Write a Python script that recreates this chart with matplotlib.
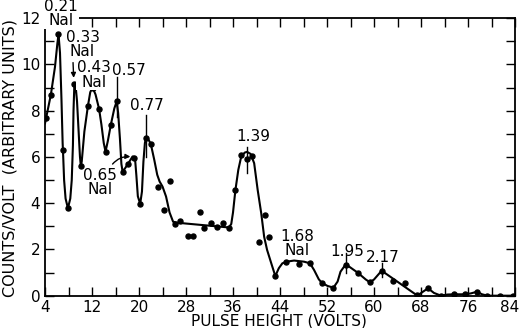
import matplotlib
matplotlib.use("Agg")
import matplotlib.pyplot as plt
from matplotlib.ticker import FixedLocator, MultipleLocator
from matplotlib.transforms import ScaledTranslation

# Measured pulse-height spectrum (dots)
pulse_v = [4.2, 5.0, 6.27, 7.07, 7.9, 9.0, 10.1, 11.3, 12.1, 13.2, 14.3, 15.2,
           16.2, 17.2, 18.2, 19.1, 20.2, 21.2, 22.0, 23.3, 24.2, 25.2, 26.2,
           27.0, 28.3, 29.2, 30.3, 31.1, 32.3, 33.2, 34.3, 35.3, 36.3, 37.4,
           38.3, 39.2, 40.35, 41.4, 42.2, 43.2, 45.1, 47.2, 49.1, 51.1, 53.1,
           55.2, 57.2, 59.3, 61.3, 63.3, 65.3, 67.4, 69.2, 71.4, 73.6, 75.5,
           77.5, 79.3, 81.4, 83.6]
counts = [7.7, 8.7, 11.3, 6.3, 3.8, 9.17, 5.6, 8.2, 9.0, 8.08, 6.23, 7.39,
          8.4, 5.37, 5.7, 5.95, 3.97, 6.8, 6.57, 4.69, 3.71, 4.94, 3.1,
          3.25, 2.6, 2.6, 3.64, 2.92, 3.13, 2.96, 3.13, 2.92, 4.55, 6.09,
          5.9, 6.02, 2.34, 3.49, 2.53, 0.85, 1.47, 1.36, 1.4, 0.56, 0.35,
          1.33, 1.0, 0.58, 1.08, 0.64, 0.56, 0.03, 0.32, 0.0, 0.06, 0.06,
          0.17, 0.0, 0.0, 0.0]

# Hand-drawn fit through the spectrum
fit_v = [4.0, 4.2, 5.0, 5.7, 6.1, 6.3, 6.55, 6.8, 7.0, 7.1, 7.25, 7.5, 7.9,
         8.3, 8.55, 8.75, 8.85, 9.0, 9.2, 9.45, 9.7, 9.95, 10.1, 10.25, 10.7,
         11.3, 11.7, 12.1, 12.6, 13.2, 13.6, 14.0, 14.3, 14.7, 15.2, 15.8,
         16.2, 16.45, 16.75, 17.0, 17.2, 17.6, 18.2, 18.9, 19.3, 19.55, 19.8,
         20.2, 20.5, 20.75, 21.0, 21.2, 21.5, 22.0, 22.6, 23.1, 23.5, 24.0,
         24.6, 25.2, 25.8, 26.4, 28.0, 31.0, 35.3, 35.7, 36.0, 36.4, 36.9,
         37.4, 38.0, 38.4, 39.0, 39.6, 40.2, 40.8, 41.3, 41.8, 42.6, 43.2,
         43.8, 44.4, 45.1, 46.4, 48.1, 49.1, 49.8, 50.6, 51.1, 52.1, 53.1,
         53.8, 54.3, 55.2, 57.2, 58.6, 59.3, 60.0, 61.3, 64.3, 67.4, 68.2,
         69.2, 70.2, 71.4, 72.5, 73.6, 75.5, 76.5, 77.5, 78.4, 79.3, 84.0]
fit_c = [7.45, 7.7, 8.7, 9.9, 10.9, 11.3, 10.5, 8.5, 6.6, 6.0, 5.0, 4.2, 3.78,
         4.2, 5.0, 6.5, 8.0, 9.17, 9.1, 8.4, 7.2, 6.0, 5.6, 5.8, 7.1,
         8.2, 8.8, 9.0, 8.7, 8.08, 7.4, 6.6, 6.23, 6.7, 7.39, 8.1,
         8.4, 7.9, 6.8, 5.7, 5.37, 5.5, 5.73, 6.02, 6.0, 5.2, 4.3,
         3.97, 4.5, 5.8, 6.6, 6.86, 6.8, 6.57, 5.87, 5.23, 4.94, 4.72,
         4.29, 3.6, 3.2, 3.16, 3.12, 3.05, 2.95, 3.1, 3.6, 4.55, 5.44,
         6.02, 6.19, 6.22, 6.13, 5.73, 4.57, 3.57, 2.55, 1.98, 1.33, 0.85,
         1.19, 1.40, 1.47, 1.52, 1.47, 1.40, 1.11, 0.71, 0.56, 0.42, 0.35,
         0.61, 1.04, 1.36, 1.0, 0.7, 0.58, 0.7, 1.08, 0.55, 0.0, 0.15,
         0.32, 0.12, 0.0, 0.05, 0.06, 0.06, 0.1, 0.17, 0.06, 0.0, 0.0]

x_ticklabels = [4, 12, 20, 28, 36, 44, 52, 60, 68, 76, 84]
y_ticklabels = [0, 2, 4, 6, 8, 10, 12]

# Gamma-ray energy labels (MeV): text, text position, tick segment (x, y0, y1)
peak_text = ["0.57", "0.77", "1.39", "1.95", "2.17"]
peak_text_xy = [(18.3, 9.73), (21.4, 8.21), (39.5, 6.87), (55.4, 1.89), (61.5, 1.67)]
peak_tick = [(16.25, 9.46, 7.73), (21.2, 7.82, 6.0), (38.3, 6.44, 5.3),
             (55.2, 1.85, 0.98), (61.3, 1.42, 0.81)]

nai_text = ["0.21\nNaI", "0.33\nNaI", "0.43\nNaI", "1.68\nNaI"]
nai_text_xy = [(6.7, 12.2), (10.4, 10.85), (12.3, 9.55), (46.9, 2.25)]

plt.rcParams["font.family"] = ["DejaVu Sans"]

fig = plt.figure(figsize=(5.21, 3.28), dpi=100)
ax = fig.add_axes([0.0864, 0.0985, 0.9021, 0.846])

ax.plot(fit_v, fit_c, color="black", lw=1.5, solid_joinstyle="round", zorder=2)
ax.plot(pulse_v, counts, "o", color="black", ms=3.6, zorder=3)

ax.set_xlim(4, 84)
ax.set_ylim(0, 12)
ax.xaxis.set_major_locator(FixedLocator(x_ticklabels))
ax.xaxis.set_minor_locator(MultipleLocator(4))
ax.yaxis.set_major_locator(FixedLocator(y_ticklabels))
ax.yaxis.set_minor_locator(MultipleLocator(1))
ax.tick_params(which="both", direction="in", top=True, right=True,
               length=6.5, width=1.0, labelsize=11)
ax.tick_params(axis="x", pad=3)
ax.tick_params(axis="y", pad=3.5)
for sp in ax.spines.values():
    sp.set_linewidth(1.3)

# keep the last x tick label inside the canvas
fig.canvas.draw()
last = ax.get_xticklabels()[-1]
last.set_transform(last.get_transform()
                   + ScaledTranslation(-5 / 100, 0, fig.dpi_scale_trans))

fig.text(279 / 521, 1 - 321 / 328, "PULSE HEIGHT (VOLTS)", fontsize=11,
         ha="center", va="center")
fig.text(10 / 521, 1 - 158 / 328, "COUNTS/VOLT  (ARBITRARY UNITS)",
         fontsize=11.5, rotation=90, ha="center", va="center")

for t, (tx, ty), (lx, y0, y1) in zip(peak_text, peak_text_xy, peak_tick):
    ax.text(tx, ty, t, ha="center", va="center", fontsize=11)
    ax.plot([lx, lx], [y0, y1], color="black", lw=1.0)

for t, (tx, ty) in zip(nai_text, nai_text_xy):
    ax.text(tx, ty, t, ha="center", va="center", fontsize=11,
            linespacing=0.95, clip_on=False, zorder=5,
            bbox=dict(facecolor="white", edgecolor="none", pad=0.5))

# Arrow to the 0.33 MeV peak
ax.annotate("", xy=(8.9, 9.3), xytext=(8.75, 10.2),
            arrowprops=dict(arrowstyle="-|>", color="black", lw=1.0,
                            mutation_scale=7))

# 0.65 MeV NaI label with curved arrow
ax.text(13.4, 4.9, "0.65\nNaI", ha="center", va="center", fontsize=11,
        linespacing=0.95)
ax.annotate("", xy=(19.0, 6.0), xytext=(15.2, 5.6),
            arrowprops=dict(arrowstyle="-|>", color="black", lw=1.0,
                            mutation_scale=7,
                            connectionstyle="arc3,rad=-0.3"))

fig.savefig("out.png", dpi=100)
